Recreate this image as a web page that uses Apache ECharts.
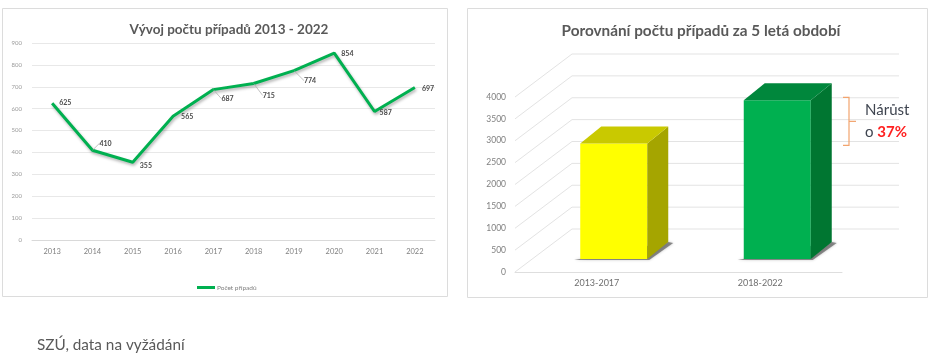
<!DOCTYPE html>
<html><head><meta charset="utf-8">
<script src="https://cdn.jsdelivr.net/npm/echarts@6/dist/echarts.min.js"></script>
<style>html,body{margin:0;padding:0;background:#fff}#c{width:945px;height:355px}</style>
</head><body><div id="c"></div>
<script>
// ---- data ----
const years = ['2013','2014','2015','2016','2017','2018','2019','2020','2021','2022'];
const cases = [625, 410, 355, 565, 687, 715, 774, 854, 587, 697];
const lineTicks = [0, 900, 100]; // min, max, interval
const periods = ['2013-2017', '2018-2022'];
const periodTotals = [2642, 3627];
const barTicks = [0, 500, 1000, 1500, 2000, 2500, 3000, 3500, 4000];

// ---- label styling (offsets are styles, not data) ----
const labelShift = [[0,0],[0,-7],[0,3],[1,0],[1,9],[2,12],[3,10],[0,1],[-2,1],[0,1]];
const withLeader = [false,true,false,false,true,true,true,false,false,false];

const FONT = 'Lato';
const growth = Math.round((periodTotals[1] / periodTotals[0] - 1) * 100);

// 3D styling
const DEPTH_X = 57, DEPTH_Y = -43;     // back wall offset
const BAR_DX = 17, BAR_DY = -13;       // bar plane offset
const BAR_W = 67, SIDE_X = 21, SIDE_Y = -17;
const barColors = [
  {front:'#FFFF00', side:'#A5A500', top:'#C9C900'},
  {front:'#00B050', side:'#007631', top:'#00873C'}
];

const chart = echarts.init(document.getElementById('c'), null, {renderer:'canvas'});

const lineData = cases.map((v, i) => ({
  value: v,
  labelLine: {show: withLeader[i]}
}));

chart.setOption({
  animation: false,
  backgroundColor: '#fff',
  graphic: [
    {type:'rect', z:-10, shape:{x:2.5, y:8.5, width:445, height:288}, style:{fill:'#fff', stroke:'#dcdcdc', lineWidth:1}},
    {type:'rect', z:-10, shape:{x:467.5, y:8.5, width:460, height:289}, style:{fill:'#fff', stroke:'#dcdcdc', lineWidth:1}},
    {type:'text', left:37, top:338, style:{text:'SZÚ, data na vyžádání', font:'15.3px ' + FONT, fill:'#595959'}}
  ],
  title: [
    {text:'Vývoj počtu případů 2013 - 2022', left:224, top:18, textAlign:'center',
     textStyle:{fontFamily:FONT, fontSize:13.5, fontWeight:'bold', color:'#595959'}},
    {text:'Porovnání počtu případů za 5 letá období', left:696, top:19, textAlign:'center',
     textStyle:{fontFamily:FONT, fontSize:15.3, fontWeight:'bold', color:'#595959'}}
  ],
  legend: {
    data: ['Počet případů'], left: 192, top: 279, icon: 'rect', itemWidth: 18, itemHeight: 3, itemGap: 2,
    itemStyle: {color:'#00B050', opacity:1},
    textStyle: {fontFamily:FONT, fontSize:6.5, color:'#808080', padding:[0,0,0,-3]}
  },
  grid: [
    {left:32, right:510, top:43, bottom:115},
    {left:515, right:103, top:97, bottom:83}
  ],
  xAxis: [
    {type:'category', gridIndex:0, data:years, boundaryGap:true,
     axisLine:{lineStyle:{color:'#d9d9d9'}}, axisTick:{show:false},
     axisLabel:{fontFamily:FONT, fontSize:7.5, color:'#808080', margin:8}},
    {type:'category', gridIndex:1, data:periods, boundaryGap:true,
     axisLine:{lineStyle:{color:'#dedede'}}, axisTick:{show:false},
     axisLabel:{fontFamily:FONT, fontSize:9, color:'#6f6f6f', margin:7}}
  ],
  yAxis: [
    {type:'value', gridIndex:0, min:lineTicks[0], max:lineTicks[1], interval:lineTicks[2],
     axisLine:{show:false}, axisTick:{show:false},
     splitLine:{lineStyle:{color:'#e8e8e8'}},
     axisLabel:{fontFamily:FONT, fontSize:6, color:'#9a9a9a', margin:10}},
    {type:'value', gridIndex:1, min:barTicks[0], max:barTicks[barTicks.length-1], interval:barTicks[1]-barTicks[0],
     axisLine:{show:false}, axisTick:{show:false}, splitLine:{show:false},
     axisLabel:{fontFamily:FONT, fontSize:8.5, color:'#808080', margin:9, formatter:(v) => String(v)}}
  ],
  series: [
    {
      name:'Počet případů', type:'line', xAxisIndex:0, yAxisIndex:0, data:lineData,
      showSymbol:true, symbol:'circle', symbolSize:0.1, color:'#00B050',
      itemStyle:{color:'rgba(0,0,0,0)', borderWidth:0},
      lineStyle:{width:3, color:'#00B050', shadowColor:'rgba(0,0,0,0.3)', shadowBlur:3, shadowOffsetY:2, shadowOffsetX:1},
      label:{show:true, position:'right', distance:7, fontFamily:FONT, fontSize:7, fontWeight:'bold', color:'#4a4a4a'},
      labelLine:{show:false, lineStyle:{color:'#a6a6a6', width:0.7}},
      labelLayout: (p) => ({dx: labelShift[p.dataIndex][0], dy: labelShift[p.dataIndex][1]})
    },
    {
      // back wall and floor grid lines of the 3D chart
      type:'custom', xAxisIndex:1, yAxisIndex:1, data: barTicks.map(v => [0, v]), z:1, silent:true,
      renderItem: (params, api) => {
        const cs = params.coordSys;
        const y = api.coord([0, api.value(1)])[1];
        const st = {stroke:'#e3e3e3', lineWidth:1};
        return {type:'group', children:[
          {type:'line', shape:{x1:cs.x, y1:y, x2:cs.x+DEPTH_X, y2:y+DEPTH_Y}, style:st},
          {type:'line', shape:{x1:cs.x+DEPTH_X, y1:y+DEPTH_Y, x2:cs.x+DEPTH_X+cs.width, y2:y+DEPTH_Y}, style:st}
        ]};
      }
    },
    {
      // 3D bars
      type:'custom', xAxisIndex:1, yAxisIndex:1, data: periodTotals.map((v, i) => [i, v]), z:3,
      renderItem: (params, api) => {
        const i = api.value(0);
        const base = api.coord([i, 0]);
        const top = api.coord([i, api.value(1)]);
        const c = barColors[i];
        const x0 = base[0] - BAR_W/2 + BAR_DX;
        const by = base[1] + BAR_DY;
        const ty = top[1] + BAR_DY;
        const x1 = x0 + BAR_W;
        return {type:'group', children:[
          {type:'polygon', shape:{points:[[x0-6,by+1],[x1+2,by+1],[x1+SIDE_X+5,by+SIDE_Y+1],[x1+SIDE_X,by+SIDE_Y]]},
           style:{fill:'rgba(60,60,60,0.55)', shadowBlur:3, shadowColor:'rgba(0,0,0,0.4)'}},
          {type:'rect', shape:{x:x0, y:ty, width:BAR_W, height:by-ty}, style:{fill:c.front}},
          {type:'polygon', shape:{points:[[x1,ty],[x1+SIDE_X,ty+SIDE_Y],[x1+SIDE_X,by+SIDE_Y],[x1,by]]}, style:{fill:c.side}},
          {type:'polygon', shape:{points:[[x0,ty],[x0+SIDE_X,ty+SIDE_Y],[x1+SIDE_X,ty+SIDE_Y],[x1,ty]]}, style:{fill:c.top}}
        ]};
      }
    },
    {
      // growth brace + annotation
      type:'custom', xAxisIndex:1, yAxisIndex:1, data: [[0, periodTotals[0], periodTotals[1]]], z:4, silent:true,
      renderItem: (params, api) => {
        const cs = params.coordSys;
        const yLow = api.coord([0, api.value(1)])[1] + BAR_DY + 2;
        const yHigh = api.coord([0, api.value(2)])[1] + BAR_DY - 3;
        const xs = cs.x + cs.width + 1;
        const xv = xs + 6;
        const ym = (yLow + yHigh) / 2;
        const st = {stroke:'#F2A46E', lineWidth:1.2, fill:null};
        return {type:'group', children:[
          {type:'polyline', shape:{points:[[xs,yHigh],[xv,yHigh],[xv,yLow],[xs,yLow]]}, style:st},
          {type:'line', shape:{x1:xv, y1:ym, x2:xv+7, y2:ym}, style:st},
          {type:'text', x:xv+16, y:ym, style:{
            text:'Nárůst\n{p|o }{r|' + growth + '%}',
            font:'15px ' + FONT, fill:'#3f4550', verticalAlign:'middle', align:'left', lineHeight:22,
            rich:{p:{fontFamily:FONT, fontSize:15, fill:'#3f4550'}, r:{fontFamily:FONT, fontSize:15, fontWeight:'bold', fill:'#FF2020'}}
          }}
        ]};
      }
    }
  ]
});
</script>
</body></html>
